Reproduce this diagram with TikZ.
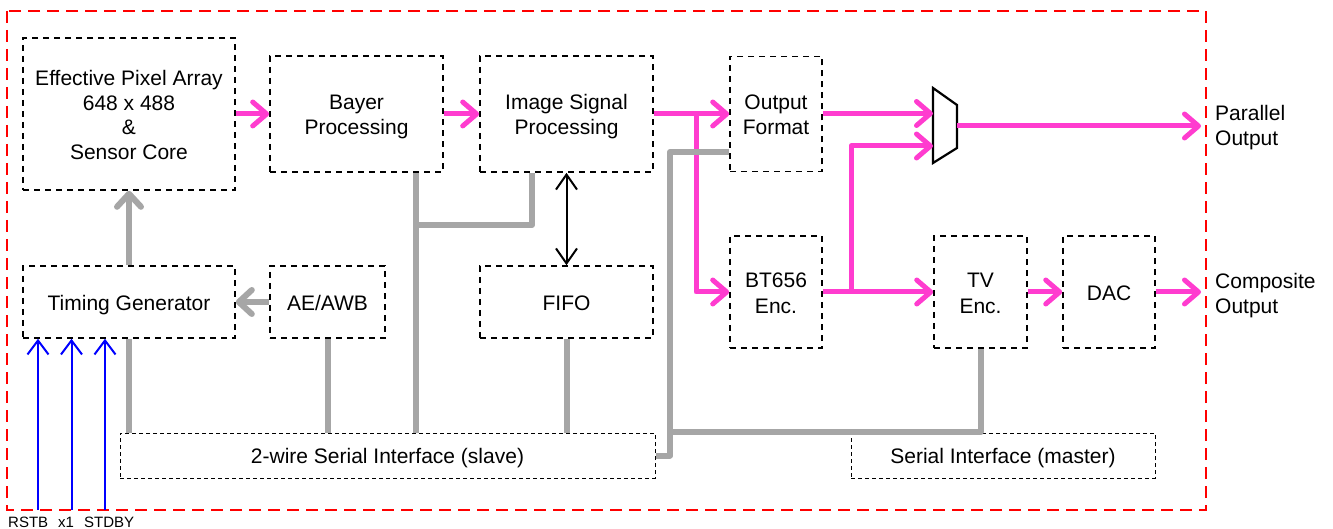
\documentclass[tikz,border=0pt]{standalone}
\usepackage{fontspec}
\setmainfont{Liberation Sans}
\usetikzlibrary{arrows.meta,calc}
\definecolor{mag}{HTML}{FF3CCF}
\definecolor{gry}{HTML}{A6A6A6}
\newcommand{\tstr}{\rule{0pt}{21pt}}
\newcommand{\bstr}{\rule[-4pt]{0pt}{4pt}}
\begin{document}
\begin{tikzpicture}[x=1pt,y=-1pt,
  boxtext/.style={inner sep=0pt,align=center,font=\fontsize{21}{25}\selectfont},
  blk/.style={boxtext,draw=black,line width=1.6pt,dash pattern=on 6pt off 5pt,minimum width=#1},
  thinblk/.style={boxtext,draw=black,line width=1pt,dash pattern=on 4pt off 3pt,minimum width=#1,minimum height=45pt},
  magline/.style={draw=mag,line width=5pt,line join=round},
  magarr/.style={magline,-{Straight Barb[length=14pt,width=24pt,round]}},
  gryline/.style={draw=gry,line width=6pt,line join=round},
  gryarr/.style={gryline,-{Straight Barb[length=13pt,width=24pt,round]}},
  bluarr/.style={draw=blue,line width=2pt,-{Straight Barb[length=14pt,width=21pt]}},
  lbl/.style={inner sep=0pt,align=left,anchor=west,font=\fontsize{21}{25}\selectfont},
  sigl/.style={inner sep=0pt,anchor=base west,font=\fontsize{15}{16}\selectfont}
]
\useasboundingbox (0,0) rectangle (1333,529);
% chip border
\draw[red,line width=2.7pt,dash pattern=on 12pt off 7pt] (7,11) rectangle (1206,510);

% boxes
\node[blk=212pt,minimum height=152pt,font=\fontsize{21}{24.5}\selectfont] (pix) at (129,114) {\tstr Effective Pixel Array\\648 x 488\\\&\\Sensor Core\bstr};
\node[blk=173pt,minimum height=116pt] (bayer) at (356.5,114) {\tstr Bayer\\Processing\bstr};
\node[blk=173pt,minimum height=116pt] (isp) at (566.5,114) {\tstr Image Signal\\Processing\bstr};
\node[blk=92pt,minimum height=115pt] (outf) at (776,114) {\tstr Output\\Format\bstr};
\node[blk=212pt,minimum height=72pt] (tg) at (129,302) {\tstr Timing Generator\bstr};
\node[blk=115pt,minimum height=72pt] (ae) at (327.5,302) {\tstr AE/AWB\bstr};
\node[blk=173pt,minimum height=72pt] (fifo) at (566.5,302) {\tstr FIFO\bstr};
\node[blk=92pt,minimum height=112pt] (bt) at (776,292) {\tstr BT656\\Enc.\bstr};
\node[blk=93pt,minimum height=112pt] (tv) at (980.5,292) {\tstr TV\\Enc.\bstr};
\node[blk=92pt,minimum height=112pt] (dac) at (1109,292) {\tstr DAC\bstr};
\node[thinblk=535pt] (swi) at (387.5,455.5) {\tstr 2-wire Serial Interface (slave)\bstr};
\node[thinblk=304pt] (smi) at (1003,455.5) {\tstr Serial Interface (master)\bstr};

\node[lbl] (po) at (1215,128) {Parallel\\Output};
\node[lbl] (co) at (1215,296) {Composite\\Output};

% mux
\coordinate (m1) at (933,88);
\coordinate (m2) at (957,105);
\coordinate (m3) at (957,148);
\coordinate (m4) at (933,163);
\draw[black,line width=2.2pt,line join=miter] (m1) -- (m2) -- (m3) -- (m4) -- cycle;
\coordinate (muxin1) at (933,113.5);
\coordinate (muxin2) at (933,146);
\coordinate (muxout) at (957,126);

% magenta data path
\draw[magarr] (pix.east |- bayer.west) -- (bayer.west);
\draw[magarr] (bayer.east) -- (isp.west);
\draw[magarr] (isp.east) -- (outf.west);
\coordinate (b1) at (696,114);
\draw[magarr] (b1) |- (bt.west);
\draw[magarr] (outf.east |- muxin1) -- (muxin1);
\draw[magarr] (bt.east) -- (tv.west);
\coordinate (b2) at (851,292);
\draw[magarr] (b2) |- (muxin2);
\draw[magarr,shorten >=14pt] (muxout) -- (muxout -| po.west);
\draw[magarr] (tv.east) -- (dac.west);
\draw[magarr,shorten >=14pt] (dac.east) -- (dac.east -| co.west);

% gray control path
\draw[gryarr] (tg.north) -- (pix.south);
\draw[gryarr] (ae.west) -- (tg.east);
\draw[gryline] (tg.south) -- (tg.south |- swi.north);
\draw[gryline] (ae.south) -- (ae.south |- swi.north);
\coordinate (bx) at (416,0);
\draw[gryline] (bayer.south -| bx) -- (swi.north -| bx);
\coordinate (bj) at (416,225);
\coordinate (ix) at (532,0);
\draw[gryline] (bj) -| (isp.south -| ix);
\draw[gryline] (fifo.south) -- (fifo.south |- swi.north);
\coordinate (gA) at (670,152);
\draw[gryline] (swi.east) -| (gA) -- (outf.west |- gA);
\coordinate (gB) at (670,432);
\draw[gryline] (gB) -| (tv.south);

% FIFO link
\draw[black,line width=2pt,{Straight Barb[length=15pt,width=21pt]}-{Straight Barb[length=15pt,width=21pt]}] (isp.south) -- (fifo.north);

% external inputs
\coordinate (r1) at (38,510);
\coordinate (r2) at (71.5,510);
\coordinate (r3) at (105,510);
\draw[bluarr] (r1) -- (tg.south -| r1);
\draw[bluarr] (r2) -- (tg.south -| r2);
\draw[bluarr] (r3) -- (tg.south -| r3);
\node[sigl] (s1) at (8,527) {RSTB};
\node[sigl] (s2) at (58,527) {x1};
\node[sigl] (s3) at (84,527) {STDBY};
\end{tikzpicture}
\end{document}
